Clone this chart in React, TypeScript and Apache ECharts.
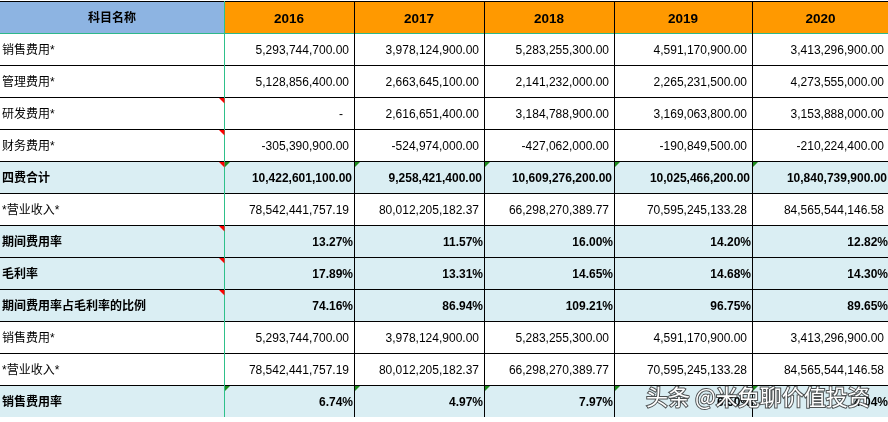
import React, { useEffect, useRef } from 'react';
import * as echarts from 'echarts';

// ---------- data ----------
const headerLabel = '科目名称';
const years = ['2016', '2017', '2018', '2019', '2020'];
const rowLabels = [
  '销售费用*',
  '管理费用*',
  '研发费用*',
  '财务费用*',
  '四费合计',
  '*营业收入*',
  '期间费用率',
  '毛利率',
  '期间费用率占毛利率的比例',
  '销售费用*',
  '*营业收入*',
  '销售费用率',
];
const salesExpense = [5293744700.0, 3978124900.0, 5283255300.0, 4591170900.0, 3413296900.0];
const adminExpense = [5128856400.0, 2663645100.0, 2141232000.0, 2265231500.0, 4273555000.0];
const rdExpense: (number | null)[] = [null, 2616651400.0, 3184788900.0, 3169063800.0, 3153888000.0];
const financeExpense = [-305390900.0, -524974000.0, -427062000.0, -190849500.0, -210224400.0];
const fourExpenseTotal = [10422601100.0, 9258421400.0, 10609276200.0, 10025466200.0, 10840739900.0];
const revenue = [78542441757.19, 80012205182.37, 66298270389.77, 70595245133.28, 84565544146.58];
const periodExpenseRate = [13.27, 11.57, 16.0, 14.2, 12.82];
const grossMargin = [17.89, 13.31, 14.65, 14.68, 14.3];
const expenseToMarginRatio = [74.16, 86.94, 109.21, 96.75, 89.65];
const salesExpenseRate = [6.74, 4.97, 7.97, 6.5, 4.04];
const watermark = '头条 @米兔聊价值投资';

const rowValues: (number | null)[][] = [
  salesExpense,
  adminExpense,
  rdExpense,
  financeExpense,
  fourExpenseTotal,
  revenue,
  periodExpenseRate,
  grossMargin,
  expenseToMarginRatio,
  salesExpense,
  revenue,
  salesExpenseRate,
];
const rowKinds = ['money', 'money', 'money', 'money', 'money', 'money', 'pct', 'pct', 'pct', 'money', 'money', 'pct'];

// ---------- layout / style ----------
const COL_EDGES = [0, 224, 354, 484, 614, 752, 889];
const SHADED_ROWS = [5, 7, 8, 9, 12]; // table rows (0 = header)
const RED_FLAG_ROWS = [3, 4, 5, 7, 8, 9];
const GREEN_FLAG_ROWS = [5, 12];
const FONT = '"Liberation Sans", Arial, "Noto Sans CJK SC", sans-serif';

const fmtMoney = (v: number | null) =>
  v == null ? '-' : v.toLocaleString('en-US', { minimumFractionDigits: 2, maximumFractionDigits: 2 });
const fmtPct = (v: number | null) => (v == null ? '-' : v.toFixed(2) + '%');

function cellText(c: number, r: number): string {
  if (r === 0) return c === 0 ? headerLabel : years[c - 1];
  if (c === 0) return rowLabels[r - 1];
  const v = rowValues[r - 1][c - 1];
  return rowKinds[r - 1] === 'pct' ? fmtPct(v) : fmtMoney(v);
}

const cells: number[][] = [];
for (let r = 0; r <= rowLabels.length; r++) {
  for (let c = 0; c <= years.length; c++) cells.push([c, r]);
}

export default function App() {
  const ref = useRef<HTMLDivElement>(null);
  useEffect(() => {
    if (!ref.current) return;
    const chart = echarts.init(ref.current, undefined, { renderer: 'svg' });

    const renderFill = (_p: any, api: any) => {
      const c = api.value(0);
      const r = api.value(1);
      const p0 = api.coord([COL_EDGES[c], r]);
      const p1 = api.coord([COL_EDGES[c + 1], r + 1]);
      let fill = '#ffffff';
      if (r === 0) fill = c === 0 ? '#8DB4E2' : '#FF9900';
      else if (SHADED_ROWS.includes(r)) fill = '#DAEEF3';
      return {
        type: 'rect',
        shape: { x: p0[0], y: p0[1], width: p1[0] - p0[0], height: p1[1] - p0[1] },
        style: { fill },
      };
    };

    const renderContent = (_p: any, api: any) => {
      const c = api.value(0);
      const r = api.value(1);
      const p0 = api.coord([COL_EDGES[c], r]);
      const p1 = api.coord([COL_EDGES[c + 1], r + 1]);
      const x0 = Math.round(p0[0]);
      const x1 = Math.round(p1[0]);
      const y0 = Math.round(p0[1]);
      const y1 = Math.round(p1[1]);
      const children: any[] = [];
      const text = cellText(c, r);
      const bold = r === 0 || SHADED_ROWS.includes(r);
      const isPct = r > 0 && rowKinds[r - 1] === 'pct';
      const isDash = text === '-';
      let tx: number;
      let align: string;
      if (r === 0) {
        tx = (x0 + x1) / 2;
        align = 'center';
      } else if (c === 0) {
        tx = x0 + 2;
        align = 'left';
      } else {
        const pad = isDash ? 11 : isPct ? 1 : bold ? 2 : 5;
        tx = x1 - pad;
        align = 'right';
      }
      const fontSize = r === 0 && c > 0 ? 13.5 : 12;
      children.push({
        type: 'text',
        style: {
          text,
          x: tx,
          y: (y0 + y1) / 2 + 1,
          align,
          verticalAlign: 'middle',
          textAlign: align,
          textVerticalAlign: 'middle',
          fontSize,
          fontWeight: bold ? 'bold' : 'normal',
          fontFamily: FONT,
          fill: '#000000',
        },
        z2: 5,
      });
      // bottom border
      children.push({
        type: 'line',
        shape: { x1: x0, y1: y1 + 0.5, x2: x1 + 1, y2: y1 + 0.5 },
        style: { stroke: r === 0 ? '#2EB88A' : '#000000', lineWidth: 1 },
        z2: 2,
      });
      if (r === 0) {
        children.push({
          type: 'line',
          shape: { x1: x0, y1: y0 + 0.5, x2: x1 + 1, y2: y0 + 0.5 },
          style: { stroke: '#000000', lineWidth: 1 },
          z2: 2,
        });
      }
      // right border
      children.push({
        type: 'line',
        shape: { x1: x1 + 0.5, y1: y0, x2: x1 + 0.5, y2: y1 + 1 },
        style: { stroke: c === 0 ? '#2EC08A' : '#000000', lineWidth: 1 },
        z2: c === 0 ? 4 : 3,
      });
      if (c === 0 && RED_FLAG_ROWS.includes(r)) {
        children.push({
          type: 'polygon',
          shape: { points: [[x1 - 5, y0 + 1], [x1 + 0.5, y0 + 1], [x1 + 0.5, y0 + 6.5]] },
          style: { fill: '#FF0000' },
          z2: 6,
        });
      }
      if (c > 0 && GREEN_FLAG_ROWS.includes(r)) {
        children.push({
          type: 'polygon',
          shape: { points: [[x0 + 1, y0 + 1], [x0 + 6, y0 + 1], [x0 + 1, y0 + 6]] },
          style: { fill: '#1E8C1E' },
          z2: 6,
        });
      }
      return { type: 'group', children };
    };

    chart.setOption({
      animation: false,
      grid: { left: 0, right: 0, top: 1, bottom: 5, containLabel: false },
      xAxis: { type: 'value', min: 0, max: 888, show: false },
      yAxis: { type: 'value', min: 0, max: rowLabels.length + 1, inverse: true, show: false },
      series: [
        {
          type: 'custom',
          name: 'fills',
          renderItem: renderFill,
          data: cells,
          clip: true,
          z: 1,
          silent: true,
        },
        {
          type: 'custom',
          name: 'content',
          renderItem: renderContent,
          data: cells,
          clip: true,
          z: 2,
          silent: true,
        },
      ],
      graphic: [
        {
          type: 'text',
          left: 645,
          top: 383,
          z: 100,
          style: {
            text: watermark,
            fill: '#ffffff',
            stroke: 'rgba(40,40,40,0.8)',
            lineWidth: 2,
            fontSize: 22,
            fontFamily: '"Noto Sans CJK SC", sans-serif',
          },
        },
      ],
    });
    return () => chart.dispose();
  }, []);
  return <div ref={ref} style={{ position: 'fixed', left: 0, top: 0, width: 888, height: 422 }} />;
}
